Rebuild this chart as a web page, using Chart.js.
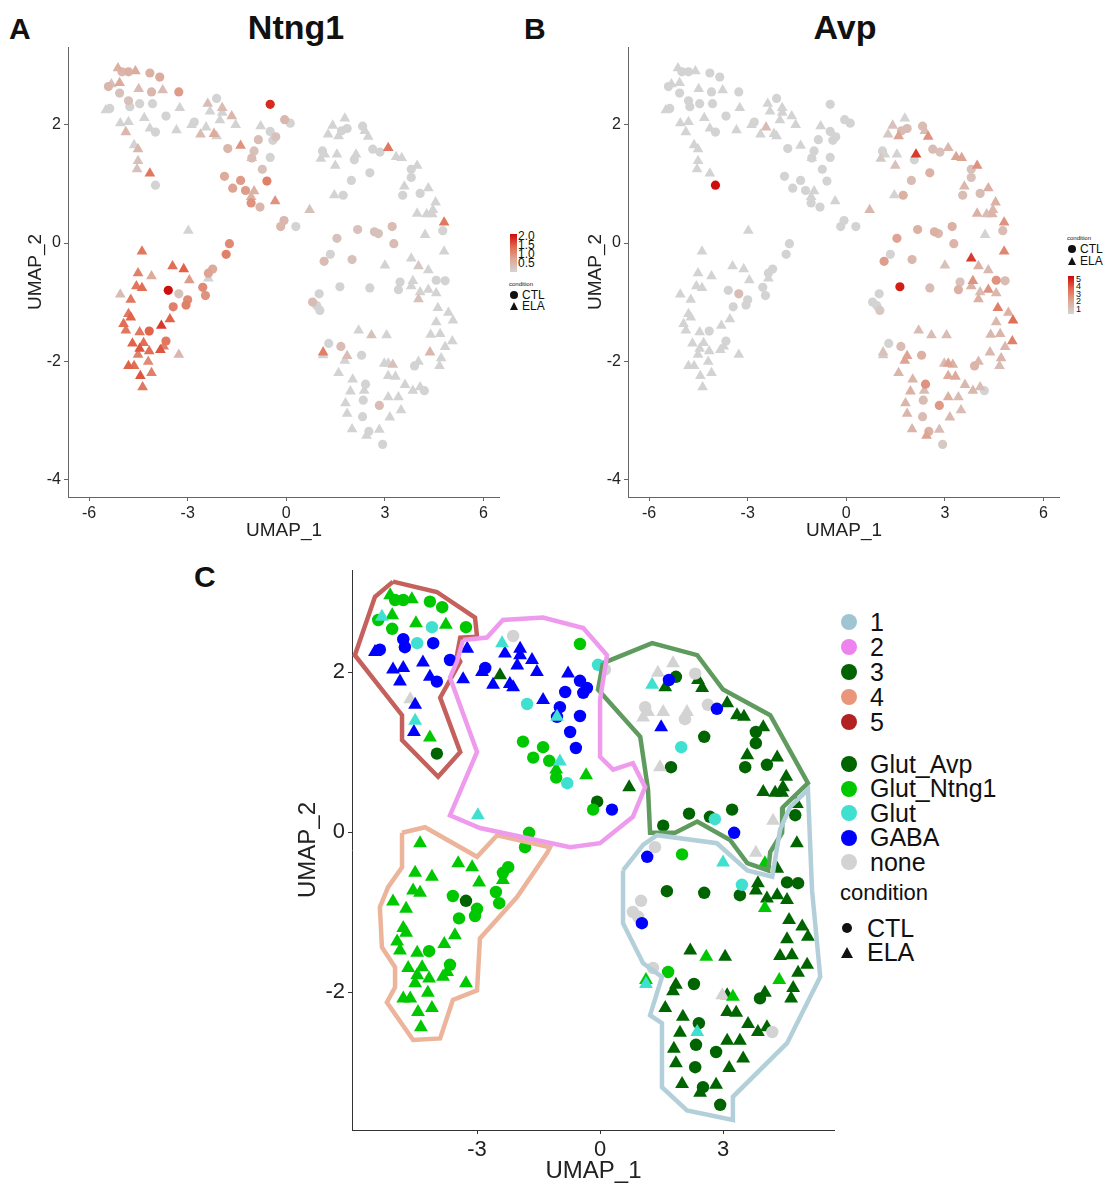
<!DOCTYPE html>
<html>
<head>
<meta charset="utf-8">
<script src="https://cdn.jsdelivr.net/npm/chart.js@4.4.0/dist/chart.umd.min.js"></script>
<style>
  body { margin: 0; width: 1107px; height: 1188px; background: #fff; position: relative; overflow: hidden;
         font-family: "Liberation Sans", Arial, sans-serif; color: #111; }
  .box { position: absolute; }
  .txt { position: absolute; white-space: nowrap; line-height: 1; }
  .tri { position: absolute; width: 0; height: 0; border-left-style: solid; border-right-style: solid;
         border-bottom-style: solid; border-left-color: transparent; border-right-color: transparent; }
  .dot { position: absolute; border-radius: 50%; }
</style>
</head>
<body>
<div class="txt" style="left:9px;top:14px;font-size:30px;font-weight:bold">A</div>
<div class="txt" style="left:524px;top:14px;font-size:30px;font-weight:bold">B</div>
<div class="txt" style="left:194px;top:562px;font-size:30px;font-weight:bold">C</div>
<div class="txt" style="left:196px;top:10px;width:200px;text-align:center;font-size:34px;font-weight:bold">Ntng1</div>
<div class="txt" style="left:745px;top:10px;width:200px;text-align:center;font-size:34px;font-weight:bold">Avp</div>

<div class="box" style="left:22px;top:47px;width:478px;height:497px"><canvas id="grafNtng1"></canvas></div>
<div class="box" style="left:582px;top:47px;width:478px;height:497px"><canvas id="grafAvp"></canvas></div>
<div class="box" style="left:292px;top:570px;width:543px;height:618px"><canvas id="grafCluster"></canvas></div>
<div id="legendas"></div>

<script>
// labels and colours
const cellTypes = ["Glut_Avp", "Glut_Ntng1", "Glut", "GABA", "none"];
const typeColors = ["#006400", "#00c800", "#40e0d0", "#0000ff", "#d3d3d3"];
const clusterNames = ["1", "2", "3", "4", "5"];
const clusterDots = ["#9fc5d3", "#ee82ee", "#006400", "#e9967a", "#b22222"];
const hullColors = ["#b3cfd9", "#ee9bee", "#5f9b5f", "#ecb49a", "#c4615d"];
const conditions = ["CTL", "ELA"];

const abXTicks = [-6, -3, 0, 3, 6];
const abYTicks = [2, 0, -2, -4];
const cXTicks = [-3, 0, 3];
const cYTicks = [2, 0, -2];
const ntngBarLabels = ["2.0", "1.5", "1.0", "0.5"];
const avpBarLabels = ["5", "4", "3", "2", "1"];

// cells: [UMAP_1, UMAP_2, ELA (1) or CTL (0), Ntng1, Avp]
const glutAvp = [
  [-3.98,0.98,0,0,5.3], [-2.44,1.96,1,0,1.0], [-0.07,0.38,0,0.5,0], [0.71,0.56,1,0.3,1.2], [-3.27,-0.86,0,0.3,1.0],
  [1.85,1.94,0,0,1.0], [1.59,1.81,1,0,2.0], [2.39,1.90,1,0,1.0], [2.49,1.80,1,0,2.5], [3.10,1.61,1,1.3,1.2],
  [3.34,1.46,1,0,2.0], [3.51,1.44,1,0,2.0], [2.54,1.19,0,0,1.5], [3.98,1.31,1,0,2.5], [3.80,1.25,0,0,0.8],
  [3.80,1.11,0,0,0.8], [3.59,0.96,1,0,1.2], [3.54,0.81,0,0,1.0], [4.32,0.93,1,0,1.5], [4.07,0.84,0,0,1.0],
  [1.73,0.81,0,0,1.5], [4.54,0.69,1,0,1.5], [4.46,0.56,1,0,1.2], [3.98,0.50,1,0,1.5], [4.27,0.49,1,0,1.0],
  [4.44,0.49,1,0,1.3], [4.80,0.35,1,1.3,2.5], [4.76,0.21,0,0,1.0], [2.17,0.23,0,0.3,1.5], [2.68,0.19,0,0.3,1.5],
  [3.22,0.28,0,0.4,1.5], [1.54,0.08,0,0.3,2.0], [4.80,-0.14,1,0,2.8], [4.32,-0.46,1,0,1.2], [4.56,-0.63,0,0,2.5],
  [4.83,-0.64,0,0,1.0], [3.41,-0.79,0,0,1.5], [3.85,-0.64,1,0,2.5], [3.80,-0.73,1,0,1.5], [4.07,-0.83,1,0,1.0],
  [4.32,-0.79,1,0,2.5], [4.56,-0.85,1,0,1.2], [1.63,-0.74,0,0,5.0], [2.54,-0.76,0,0,1.0], [4.61,-1.10,1,0,3.0],
  [4.93,-1.18,1,0,1.5], [5.07,-1.31,1,0,3.5], [4.56,-1.34,1,0,1.2], [4.39,-1.55,1,0,1.2], [4.68,-1.54,1,0,1.3],
  [2.20,-1.48,1,0,1.0], [3.05,-1.56,1,0,1.0], [5.05,-1.66,1,0,3.0], [4.83,-1.76,1,0,1.2], [4.71,-1.95,1,0,1.3],
  [4.66,-2.08,1,0,1.0], [1.85,-1.91,1,0.4,2.0], [1.78,-1.99,1,0,2.0], [2.29,-1.90,0,0,1.5], [3.10,-2.04,1,0,2.0],
  [3.90,-2.08,0,0,1.3], [4.02,-2.01,1,0,1.2], [1.59,-2.20,1,0,1.3], [2.02,-2.31,1,0,1.3], [3.10,-2.25,1,0,1.8],
  [3.32,-2.26,1,0,1.8], [2.41,-2.39,0,0,2.5], [3.61,-2.40,1,0,1.2], [3.85,-2.50,1,0,1.2], [4.07,-2.44,1,0,1.0],
  [1.95,-2.51,1,0,1.5], [3.10,-2.61,1,0,1.5], [3.41,-2.61,1,0,1.0], [2.34,-2.66,0,0,1.0], [1.80,-2.71,1,0,1.3],
  [2.83,-2.75,0,0.4,2.3], [3.49,-2.83,1,0,1.0], [1.85,-2.89,1,0,1.3], [2.32,-2.94,0,0,1.0], [3.15,-2.95,1,0,1.2],
  [2.00,-3.15,1,0,1.3], [2.44,-3.26,1,0,2.0], [2.83,-3.16,1,0,1.0], [2.51,-3.19,0,0,1.5], [2.93,-3.41,0,0,0.5]
];
const glutNtng1 = [
  [-5.12,2.96,1,0.6,0], [-5.00,2.90,0,0.5,0], [-4.80,2.90,0,0.6,0], [-4.59,2.91,1,0.7,0], [-4.15,2.88,0,0.6,0],
  [-3.85,2.81,0,0.7,0], [-5.41,2.65,0,0.5,0], [-5.07,2.71,1,0.7,0], [-5.07,2.54,0,0.3,0], [-4.49,2.61,1,0.4,0],
  [-3.76,2.59,1,0.4,0], [-3.27,2.56,0,0.9,0], [-4.15,1.18,1,1.3,0], [-0.49,2.35,0,1.9,0], [-1.88,1.13,0,0.7,0],
  [-1.39,1.06,0,0.9,0], [-1.63,0.93,0,0.8,0], [-1.24,0.89,0,0.9,0], [-1.07,0.78,1,0.6,0], [-1.07,0.68,0,1.0,0],
  [-0.34,0.71,1,1.0,0], [-0.17,0.28,0,0.5,0], [-1.73,-0.01,0,1.1,0], [-1.83,-0.19,0,1.2,0], [-4.39,-0.14,1,1.3,0],
  [-3.46,-0.39,1,1.4,0], [-3.12,-0.44,1,1.5,0], [-2.24,-0.44,0,0.7,0], [-2.37,-0.51,0,0.8,0], [-2.37,-0.60,1,0,0],
  [-2.95,-0.63,1,0.9,0], [-4.51,-0.51,1,1.2,0], [-4.10,-0.56,1,0.7,0], [-4.56,-0.73,1,1.3,0], [-4.39,-0.76,1,1.4,0],
  [-2.54,-0.75,0,1.1,0], [-2.46,-0.89,0,1.0,0], [-3.59,-0.80,0,2.1,0], [-3.00,-0.96,0,1.1,0], [-3.05,-1.05,0,1.2,0],
  [-3.44,-1.08,0,1.2,0], [-5.05,-0.87,1,0.4,0], [-4.73,-0.96,1,1.3,0], [-4.80,-1.20,1,1.3,0], [-4.73,-1.26,1,1.5,0],
  [-4.95,-1.37,1,1.4,0], [-4.88,-1.48,1,1.3,0], [-3.54,-1.29,1,1.5,0], [-3.80,-1.40,1,1.8,0], [-4.17,-1.49,0,1.5,0],
  [-4.46,-1.51,1,1.3,0], [-4.68,-1.70,1,1.5,0], [-4.34,-1.69,1,1.4,0], [-4.46,-1.79,1,1.6,0], [-4.17,-1.83,1,1.4,0],
  [-3.66,-1.66,0,1.3,0], [-3.83,-1.81,1,1.6,0], [-3.73,-1.75,1,1.2,0], [-4.51,-1.89,1,1.2,0], [-3.27,-1.89,1,0.5,0],
  [-4.20,-2.01,1,1.1,0], [-4.80,-2.08,1,1.5,0], [-4.63,-2.08,1,1.4,0], [-4.44,-2.25,1,1.6,0], [-4.10,-2.20,1,1.2,0],
  [-4.37,-2.44,1,1.3,0], [2.00,-0.28,0,0.3,1.2], [4.02,-0.39,1,0.2,1.5], [4.02,-0.95,1,0.3,1.5], [2.59,-1.56,1,0.3,1.0],
  [4.37,-1.85,1,0.5,1.2], [1.66,-1.75,0,0.4,1.0], [1.12,-1.85,1,1.2,0.8], [3.24,-2.06,1,0.3,1.5]
];
const glut = [
  [-5.32,2.69,1,0.3,0], [-4.10,2.56,0,0.5,0], [-4.46,2.36,0,0,0], [-4.51,1.39,1,0.3,0], [-2.39,2.36,1,0.4,0],
  [-1.78,1.60,0,0.5,0], [-1.05,1.44,1,0.4,0], [-0.98,0.88,1,0.6,0], [-0.80,0.61,0,0.5,0], [-2.98,0.21,1,0,0],
  [-0.05,2.09,0,0.5,0], [1.27,1.84,1,0,0.5], [1.98,1.06,0,0,1.0], [2.80,0.16,0,0.3,1.2], [3.00,-0.38,1,0,0.8],
  [3.46,-0.66,0,0,0.8], [2.37,-2.50,1,0,1.0], [1.12,-1.90,1,0,0.5]
];
const gaba = [
  [-4.80,2.41,0,0.3,0], [-4.76,2.31,0,0,0], [-4.07,2.36,0,0,0], [-5.49,2.25,1,0,0], [-5.37,2.28,0,0,0],
  [-3.66,2.15,0,0,0], [-4.32,2.12,1,0,0], [-5.05,2.03,1,0,0], [-4.80,2.05,1,0,0], [-4.88,1.88,1,0.5,0],
  [-4.15,1.94,1,0,0], [-3.98,1.88,0,0,0], [-4.51,1.59,1,0.5,0], [-4.54,1.25,1,0.3,0], [-3.24,2.29,1,0,0],
  [-2.32,2.23,1,0,0], [-1.95,2.29,1,0.4,0], [-1.95,2.21,1,0,0], [-1.66,2.15,1,0.5,0], [-2.02,2.08,1,0,0],
  [-2.80,2.05,0,0,0], [-2.88,2.00,1,0,0], [-3.34,1.91,1,0,0], [-2.61,1.84,1,0.4,0], [-2.20,1.85,1,0.7,0],
  [-2.12,1.81,1,0,0], [-1.54,2.00,1,0,0], [-0.78,1.98,1,0,0], [-0.49,1.89,0,0,0], [-0.32,1.80,0,0.3,0],
  [-0.41,1.74,0,0,0], [-0.85,1.75,0,0.4,0], [-1.39,1.65,1,1.0,0], [-0.98,1.56,0,0.3,0], [-1.05,1.44,0,0.4,0],
  [-0.49,1.45,0,0,0], [-0.73,1.25,0,0.3,0], [-0.59,1.05,0,1.2,0], [0.29,0.28,0,0,0], [1.68,1.90,0,0,1.0],
  [2.85,1.54,0,0,0.8], [1.49,1.31,1,0,0.8], [3.27,-0.01,0,0.4,1.3], [1.15,-0.31,0,0.4,2.2], [1.02,-1.14,0,0,0.5]
];
const noneCells = [
  [-4.63,1.66,1,0,0], [-2.12,2.45,0,0,0], [0.12,2.03,0,0,0], [1.78,2.11,1,0,0], [1.41,1.99,1,0,0.8],
  [2.32,1.98,0,0,1.0], [1.10,1.56,0,0,0], [1.17,1.50,1,0,0], [1.05,1.43,1,0,0.5], [1.54,1.50,1,0,0],
  [2.12,1.50,1,0,4.5], [2.07,1.41,0,0,0], [2.63,1.59,0,0,1.0], [1.46,0.81,1,0,0], [4.22,0.14,1,0,0],
  [1.34,-0.19,0,0,0], [3.80,-0.26,1,0,4.5], [1.00,-0.86,0,0,0], [0.80,-1.00,0,0.4,0], [0.93,-1.06,0,0,0],
  [1.29,-1.70,0,0,0], [2.98,-2.04,1,0,1.0], [4.20,-2.50,0,0,0]
];

// cluster outlines (UMAP units)
const hull1 = [[0.56,-0.48],[1.05,-0.16],[1.39,-0.04],[2.85,-0.14],[3.59,-0.48],[4.20,-0.56],[4.39,0.03],[4.63,0.31],
  [5.07,0.53],[5.17,-0.73],[5.37,-1.81],[4.56,-2.64],[3.24,-3.31],[3.24,-3.60],[2.12,-3.48],[1.51,-3.19],[1.51,-2.39],
  [1.22,-2.29],[1.51,-1.81],[1.05,-1.64],[0.56,-1.14],[0.56,-0.48]];
const hull2 = [[-3.34,2.40],[-2.76,2.43],[-2.37,2.65],[-1.39,2.68],[-0.41,2.55],[0.17,2.21],[0.0,1.65],[0.0,0.94],
  [0.32,0.78],[0.80,0.86],[1.10,0.56],[0.80,0.19],[0.0,-0.14],[-0.73,-0.19],[-2.93,0.05],[-3.66,0.21],[-3.00,1.00],
  [-3.66,1.93],[-3.49,2.13],[-3.34,2.40]];
const hull3 = [[0.07,2.11],[1.27,2.36],[2.37,2.21],[3.00,1.78],[4.15,1.46],[5.07,0.61],[4.46,0.31],[4.44,-0.01],
  [4.15,-0.25],[4.10,-0.48],[3.59,-0.39],[3.17,-0.10],[2.37,0.13],[1.83,-0.01],[1.22,-0.01],[1.17,0.53],[0.98,1.19],
  [-0.05,1.78],[0.07,2.11]];
const hull4 = [[-4.83,-0.01],[-4.27,0.06],[-3.00,-0.31],[-2.51,-0.04],[-1.22,-0.19],[-1.29,-0.26],[-2.02,-0.81],
  [-2.93,-1.33],[-3.00,-1.98],[-3.59,-2.10],[-3.90,-2.58],[-4.56,-2.60],[-5.20,-2.13],[-5.00,-1.94],[-5.00,-1.69],
  [-5.32,-1.44],[-5.37,-0.94],[-5.17,-0.69],[-4.83,-0.44],[-4.83,-0.01]];
const hull5 = [[-5.05,3.13],[-3.98,3.00],[-3.05,2.68],[-3.00,2.44],[-3.41,2.43],[-3.49,2.21],[-3.41,2.13],[-3.90,1.68],
  [-3.41,1.00],[-3.95,0.69],[-4.83,1.15],[-4.83,1.46],[-5.98,2.21],[-5.49,2.94],[-5.05,3.13]];

Chart.defaults.font.family = '"Liberation Sans", Arial, sans-serif';
Chart.defaults.animation = false;

const typeCells = [glutAvp, glutNtng1, glut, gaba, noneCells];
const hulls = [hull1, hull2, hull3, hull4, hull5];
const allCells = [];
typeCells.forEach(list => list.forEach(c => {
  allCells.push({ x: c[0], y: c[1], tri: c[2] === 1, ntng1: c[3], avp: c[4] });
}));

// grey -> red, roughly like ggplot's Lab interpolation
const gradStops = [[0, [211, 211, 211]], [0.35, [222, 168, 152]], [0.68, [226, 104, 78]], [1, [206, 8, 8]]];
function exprColor(t) {
  t = Math.max(0, Math.min(1, t));
  for (let i = 1; i < gradStops.length; i++) {
    if (t <= gradStops[i][0]) {
      const a = gradStops[i - 1], b = gradStops[i];
      const f = (t - a[0]) / (b[0] - a[0]);
      const c = a[1].map((v, k) => Math.round(v + (b[1][k] - v) * f));
      return `rgb(${c[0]},${c[1]},${c[2]})`;
    }
  }
  return "rgb(206,8,8)";
}

function axis(min, max, ticks, fontSize, title, titleSize, fit, isY, lineColor) {
  return {
    type: "linear", min: min, max: max,
    afterBuildTicks: s => { s.ticks = ticks.map(v => ({ value: v })); },
    afterFit: s => {
      if (isY) s.width = fit; else s.height = fit;
      s.paddingTop = s.paddingBottom = s.paddingLeft = s.paddingRight = 0;
    },
    grid: { drawOnChartArea: false, drawTicks: true, tickLength: 4, color: lineColor },
    border: { display: true, color: lineColor, width: 1 },
    ticks: { color: "#222", font: { size: fontSize }, padding: 3, callback: (v, i) => String(ticks[i]) },
    title: { display: true, text: title, color: "#222", font: { size: titleSize }, padding: { top: 2, bottom: 2 } }
  };
}

function baseOptions(xs, ys) {
  return {
    responsive: true, maintainAspectRatio: false,
    layout: { padding: 0, autoPadding: false },
    events: [],
    plugins: { legend: { display: false }, tooltip: { enabled: false } },
    scales: { x: xs, y: ys }
  };
}

function featureChart(id, key, maxVal) {
  const pts = allCells.map(c => ({ x: c.x, y: c.y, tri: c.tri, v: c[key] })).sort((a, b) => a.v - b.v);
  new Chart(document.getElementById(id), {
    type: "scatter",
    data: {
      datasets: [{
        data: pts,
        pointStyle: ctx => (ctx.raw && ctx.raw.tri ? "triangle" : "circle"),
        pointRadius: ctx => (ctx.raw && ctx.raw.tri ? 6.2 : 4.6),
        backgroundColor: ctx => (ctx.raw ? exprColor(ctx.raw.v / maxVal) : "#d3d3d3"),
        pointBorderWidth: 0
      }]
    },
    options: baseOptions(
      axis(-6.64, 6.5, abXTicks, 16, "UMAP_1", 19, 47, false, "#666"),
      axis(-4.3, 3.32, abYTicks, 16, "UMAP_2", 19, 46, true, "#666")
    )
  });
}

featureChart("grafNtng1", "ntng1", 2.15);
featureChart("grafAvp", "avp", 5.4);

// panel C
const clusterSets = [];
hulls.forEach((h, i) => {
  clusterSets.push({
    type: "line", order: 0,
    data: h.map(p => ({ x: p[0], y: p[1] })),
    borderColor: hullColors[i], borderWidth: 4.5, pointRadius: 0, fill: false, tension: 0
  });
});
const drawOrder = [5, 2, 1, 3, 4];
typeCells.forEach((list, i) => {
  clusterSets.push({
    label: cellTypes[i], order: drawOrder[i],
    data: list.map(c => ({ x: c[0], y: c[1], tri: c[2] === 1 })),
    pointStyle: ctx => (ctx.raw && ctx.raw.tri ? "triangle" : "circle"),
    pointRadius: ctx => (ctx.raw && ctx.raw.tri ? 8 : 6.2),
    backgroundColor: typeColors[i],
    pointBorderWidth: 0
  });
});
new Chart(document.getElementById("grafCluster"), {
  type: "scatter",
  data: { datasets: clusterSets },
  options: baseOptions(
    axis(-6.05, 5.73, cXTicks, 22, "UMAP_1", 24, 58, false, "#333"),
    axis(-3.725, 3.275, cYTicks, 22, "UMAP_2", 24, 60, true, "#333")
  )
});

// legends
const leg = document.getElementById("legendas");
function put(html) { leg.insertAdjacentHTML("beforeend", html); }
function dot(cx, cy, r, col) {
  put(`<div class="dot" style="left:${cx - r}px;top:${cy - r}px;width:${2 * r}px;height:${2 * r}px;background:${col}"></div>`);
}
function tri(cx, cy, w, col) {
  const h = Math.round(w * 0.87);
  put(`<div class="tri" style="left:${cx - w / 2}px;top:${cy - h / 2}px;border-left-width:${w / 2}px;border-right-width:${w / 2}px;border-bottom:${h}px solid ${col}"></div>`);
}
function text(str, x, y, size, extra) {
  put(`<div class="txt" style="left:${x}px;top:${y - size / 2}px;font-size:${size}px;${extra || ""}">${str}</div>`);
}
const barGrad = "linear-gradient(to top," + [0, 0.35, 0.68, 1].map(t => exprColor(t)).join(",") + ")";

// panel A legend
put(`<div class="box" style="left:510px;top:234px;width:7px;height:38px;background:${barGrad}"></div>`);
ntngBarLabels.forEach((s, i) => text(s, 518, 238 + i * 9, 12, "line-height:0.8"));
text("condition", 509, 284, 6);
dot(514, 295, 4, "#111"); text(conditions[0], 522, 295, 12);
tri(514, 306, 9, "#111"); text(conditions[1], 522, 306, 12);

// panel B legend
text("condition", 1067, 238, 6);
dot(1072, 249, 4, "#111"); text(conditions[0], 1080, 249, 12);
tri(1072, 261, 9, "#111"); text(conditions[1], 1080, 261, 12);
put(`<div class="box" style="left:1068px;top:276px;width:6px;height:38px;background:${barGrad}"></div>`);
avpBarLabels.forEach((s, i) => text(s, 1076, 280 + i * 7.5, 9, "line-height:0.8"));

// panel C legend
clusterNames.forEach((s, i) => { dot(849, 622 + i * 25, 8, clusterDots[i]); text(s, 870, 622 + i * 25, 25); });
cellTypes.forEach((s, i) => { dot(849, 764 + i * 24.5, 8, typeColors[i]); text(s, 870, 764 + i * 24.5, 25); });
text("condition", 840, 893, 22);
dot(847, 928, 5, "#111"); text(conditions[0], 867, 928, 25);
tri(847, 952, 13, "#111"); text(conditions[1], 867, 952, 25);
</script>
</body>
</html>
